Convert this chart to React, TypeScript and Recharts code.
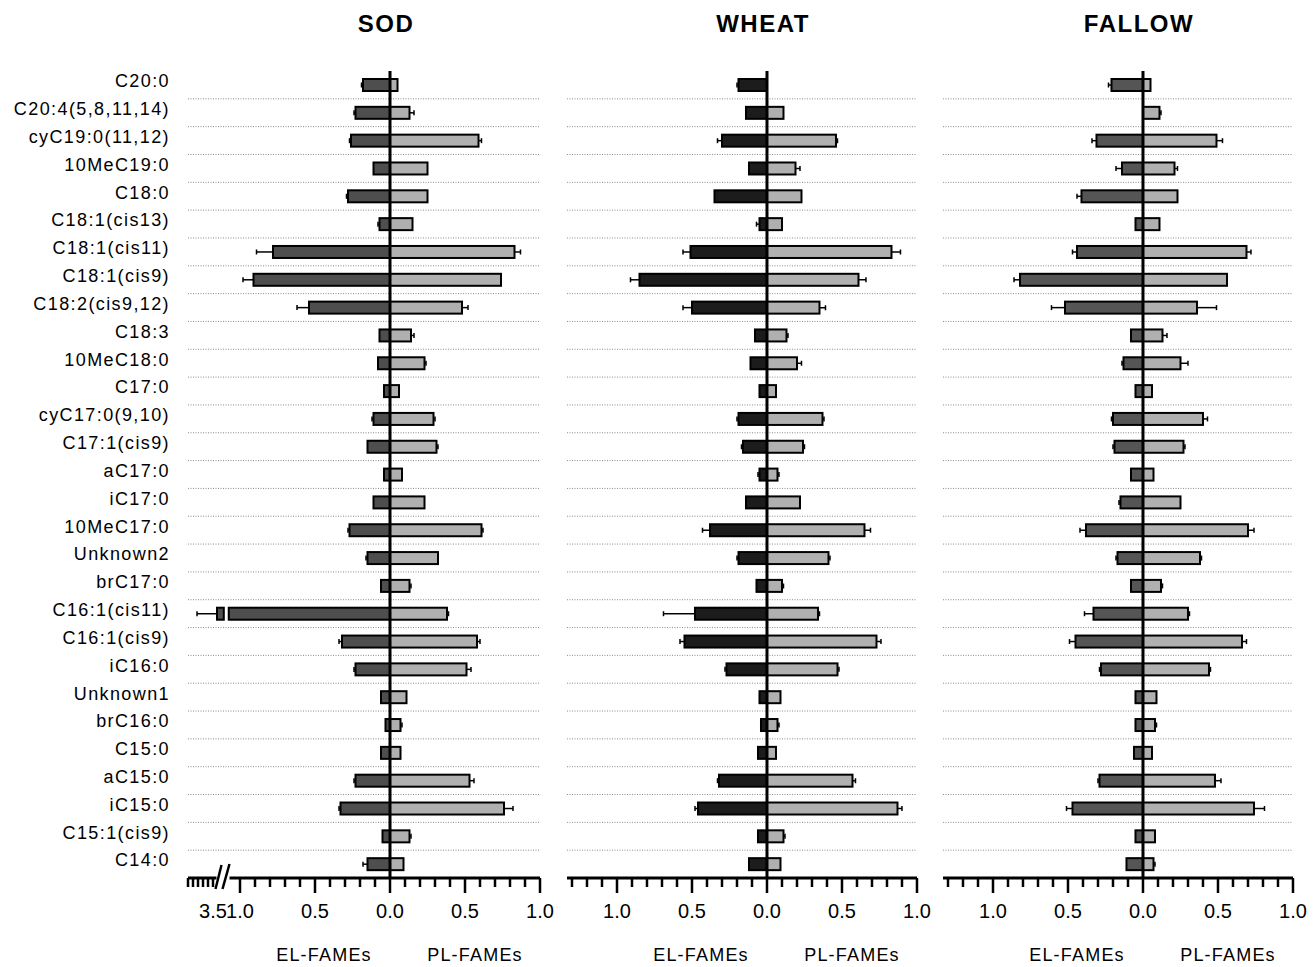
import React from "react";
import { BarChart, Bar, XAxis, YAxis, CartesianGrid, ReferenceLine } from "recharts";

const CATEGORIES = [
  "C20:0", "C20:4(5,8,11,14)", "cyC19:0(11,12)", "10MeC19:0", "C18:0", "C18:1(cis13)",
  "C18:1(cis11)", "C18:1(cis9)", "C18:2(cis9,12)", "C18:3", "10MeC18:0", "C17:0",
  "cyC17:0(9,10)", "C17:1(cis9)", "aC17:0", "iC17:0", "10MeC17:0", "Unknown2", "brC17:0",
  "C16:1(cis11)", "C16:1(cis9)", "iC16:0", "Unknown1", "brC16:0", "C15:0", "aC15:0",
  "iC15:0", "C15:1(cis9)", "C14:0",
];

// SOD
const SOD_EL = [0.18, 0.23, 0.26, 0.11, 0.28, 0.07, 0.78, 0.91, 0.54, 0.07, 0.08, 0.04, 0.11, 0.15, 0.04, 0.11, 0.27, 0.15, 0.06, 3.42, 0.32, 0.23, 0.06, 0.03, 0.06, 0.23, 0.33, 0.05, 0.15];
const SOD_EL_ERR = [0.01, 0.01, 0.01, 0, 0.01, 0.01, 0.11, 0.07, 0.08, 0, 0, 0, 0.01, 0, 0, 0, 0.01, 0.01, 0, 0.4, 0.02, 0.01, 0, 0, 0, 0.01, 0.01, 0, 0.03];
const SOD_PL = [0.05, 0.13, 0.59, 0.25, 0.25, 0.15, 0.83, 0.74, 0.48, 0.14, 0.23, 0.06, 0.29, 0.31, 0.08, 0.23, 0.61, 0.32, 0.13, 0.38, 0.58, 0.51, 0.11, 0.07, 0.07, 0.53, 0.76, 0.13, 0.09];
const SOD_PL_ERR = [0, 0.03, 0.02, 0, 0, 0, 0.04, 0, 0.04, 0.02, 0.01, 0, 0.01, 0.01, 0, 0, 0.01, 0, 0.01, 0.01, 0.02, 0.03, 0, 0.01, 0, 0.03, 0.06, 0.01, 0];

// WHEAT
const WHEAT_EL = [0.19, 0.14, 0.3, 0.12, 0.35, 0.05, 0.51, 0.85, 0.5, 0.08, 0.11, 0.05, 0.19, 0.16, 0.05, 0.14, 0.38, 0.19, 0.07, 0.48, 0.55, 0.27, 0.05, 0.04, 0.06, 0.32, 0.46, 0.06, 0.12];
const WHEAT_EL_ERR = [0.01, 0, 0.03, 0, 0, 0.02, 0.05, 0.06, 0.06, 0, 0, 0, 0.01, 0.01, 0.01, 0, 0.05, 0.01, 0, 0.21, 0.03, 0.01, 0, 0, 0, 0.01, 0.02, 0, 0];
const WHEAT_PL = [0, 0.11, 0.46, 0.19, 0.23, 0.1, 0.83, 0.61, 0.35, 0.13, 0.2, 0.06, 0.37, 0.24, 0.07, 0.22, 0.65, 0.41, 0.1, 0.34, 0.73, 0.47, 0.09, 0.07, 0.06, 0.57, 0.87, 0.11, 0.09];
const WHEAT_PL_ERR = [0, 0, 0.01, 0.03, 0, 0, 0.06, 0.05, 0.04, 0.01, 0.03, 0, 0.01, 0.01, 0.01, 0, 0.04, 0.01, 0.01, 0.01, 0.03, 0.01, 0, 0.01, 0, 0.02, 0.03, 0.01, 0];

// FALLOW
const FALLOW_EL = [0.21, 0, 0.31, 0.14, 0.41, 0.05, 0.44, 0.82, 0.52, 0.08, 0.13, 0.05, 0.2, 0.19, 0.08, 0.15, 0.38, 0.17, 0.08, 0.33, 0.45, 0.28, 0.05, 0.05, 0.06, 0.29, 0.47, 0.05, 0.11];
const FALLOW_EL_ERR = [0.02, 0, 0.03, 0.04, 0.03, 0, 0.03, 0.04, 0.09, 0, 0.01, 0, 0.01, 0.01, 0, 0.01, 0.04, 0.01, 0, 0.06, 0.04, 0.01, 0, 0, 0, 0.01, 0.04, 0, 0];
const FALLOW_PL = [0.05, 0.11, 0.49, 0.21, 0.23, 0.11, 0.69, 0.56, 0.36, 0.13, 0.25, 0.06, 0.4, 0.27, 0.07, 0.25, 0.7, 0.38, 0.12, 0.3, 0.66, 0.44, 0.09, 0.08, 0.06, 0.48, 0.74, 0.08, 0.07];
const FALLOW_PL_ERR = [0, 0.01, 0.04, 0.02, 0, 0, 0.03, 0, 0.13, 0.03, 0.05, 0, 0.03, 0.01, 0, 0, 0.04, 0.01, 0.01, 0.01, 0.03, 0.01, 0, 0.01, 0, 0.04, 0.07, 0, 0.01];

// x axis ticks
const MAJOR_TICKS = [-1, -0.5, 0, 0.5, 1];
const MINOR_TICKS = [-1.3, -1.2, -1.1, -1, -0.9, -0.8, -0.7, -0.6, -0.5, -0.4, -0.3, -0.2, -0.1, 0, 0.1, 0.2, 0.3, 0.4, 0.5, 0.6, 0.7, 0.8, 0.9, 1];
const BREAK_TICK_VALUES = [3.5, 3.6, 3.7, 3.8, 3.9, 4.0];
const BREAK_LABEL = 3.5;

const FONT = "'Liberation Sans', Arial, Helvetica, sans-serif";
const CHART_H = 967;
const PLOT_TOP = 71;
const PLOT_BOTTOM = 878;
const PX = 150; // pixels per unit on every panel
const X_AXIS_H = 60;

// broken axis (SOD only): values past 1.1 are squeezed to the left end
const BREAK_AT = 1.1;
const brk = (v: number) => (v <= BREAK_AT ? v : 1.18 + (v - 3.5) / 3);
const BREAK_MARK = -1.11;
const GAP_LO = 1.075;
const GAP_HI = 1.108;

const near = (a: number, b: number) => Math.abs(a - b) < 1e-6;

function buildRows(el: number[], elErr: number[], pl: number[], plErr: number[], broken: boolean) {
  const t = broken ? brk : (v: number) => v;
  return CATEGORIES.map((name, i) => ({
    name,
    el: -t(el[i]),
    pl: t(pl[i]),
    elErr: t(el[i] + elErr[i]) - t(el[i]),
    plErr: t(pl[i] + plErr[i]) - t(pl[i]),
  }));
}

function makeShape(fill: string, side: "el" | "pl", broken: boolean) {
  return (props: any) => {
    const { x, y, width, height, payload } = props;
    const val = side === "el" ? payload.el : payload.pl;
    if (!val || !width) return <g />;
    const left = Math.min(x, x + width);
    const right = Math.max(x, x + width);
    const ppu = (right - left) / Math.abs(val);
    const err = side === "el" ? payload.elErr : payload.plErr;
    const cy = y + height / 2;
    const zero = side === "el" ? right : left;
    const outer = side === "el" ? left : right;
    const errEnd = side === "el" ? outer - err * ppu : outer + err * ppu;

    const rects: [number, number][] = [];
    if (broken && side === "el" && Math.abs(val) > GAP_HI) {
      rects.push([left, zero - GAP_HI * ppu]);
      rects.push([zero - GAP_LO * ppu, right]);
    } else {
      rects.push([left, right]);
    }
    return (
      <g>
        {err > 0 && (
          <g stroke="#000" strokeWidth={1.5}>
            <line x1={outer} x2={errEnd} y1={cy} y2={cy} />
            <line x1={errEnd} x2={errEnd} y1={cy - 2.5} y2={cy + 2.5} />
          </g>
        )}
        {rects.map(([a, b], k) => (
          <rect key={k} x={a} y={y} width={b - a} height={height} fill={fill} stroke="#000" strokeWidth={2} />
        ))}
      </g>
    );
  };
}

function makeXTick(broken: boolean) {
  return (props: any) => {
    const { x, y, payload } = props;
    const v = payload.value;
    if (broken && near(v, BREAK_MARK)) {
      return (
        <g>
          <rect x={x - 7} y={y - 3} width={13} height={6} fill="#fff" />
          <line x1={x - 8} y1={y + 11} x2={x - 2} y2={y - 13} stroke="#000" strokeWidth={2.5} />
          <line x1={x - 1} y1={y + 11} x2={x + 6} y2={y - 14} stroke="#000" strokeWidth={2.5} />
        </g>
      );
    }
    const major = MAJOR_TICKS.some((m) => near(m, v));
    let label: string | null = major ? Math.abs(v).toFixed(1) : null;
    if (broken && near(v, -brk(BREAK_LABEL))) label = BREAK_LABEL.toFixed(1);
    return (
      <g>
        <line x1={x} x2={x} y1={y} y2={y + (major ? 15 : 9)} stroke="#000" strokeWidth={2.5} />
        {label && (
          <text x={x} y={y + 40} textAnchor="middle" fontSize={20} fontFamily={FONT} fill="#000">
            {label}
          </text>
        )}
      </g>
    );
  };
}

const YTick = (props: any) => {
  const { x, y, payload } = props;
  return (
    <text x={x - 18} y={y - 4} dy="0.355em" textAnchor="end" fontSize={18} letterSpacing={1.4} fontFamily={FONT} fill="#000">
      {payload.value}
    </text>
  );
};

const PANELS = [
  { title: "SOD", left: 0, yAxisWidth: 188, xMin: -brk(4.0), el: SOD_EL, elErr: SOD_EL_ERR, pl: SOD_PL, plErr: SOD_PL_ERR, elFill: "#4e4e4e", broken: true },
  { title: "WHEAT", left: 567, yAxisWidth: 0, xMin: -1.3333, el: WHEAT_EL, elErr: WHEAT_EL_ERR, pl: WHEAT_PL, plErr: WHEAT_PL_ERR, elFill: "#1c1c1c", broken: false },
  { title: "FALLOW", left: 943, yAxisWidth: 0, xMin: -1.3333, el: FALLOW_EL, elErr: FALLOW_EL_ERR, pl: FALLOW_PL, plErr: FALLOW_PL_ERR, elFill: "#555555", broken: false },
];
const PL_FILL = "#b0b0b0";

function Panel({ p }: { p: (typeof PANELS)[number] }) {
  const data = buildRows(p.el, p.elErr, p.pl, p.plErr, p.broken);
  const plotW = (1 - p.xMin) * PX;
  const width = p.yAxisWidth + plotW + 30;
  const ticks = p.broken
    ? [...BREAK_TICK_VALUES.map((v) => -brk(v)), BREAK_MARK, ...MINOR_TICKS.filter((t) => t >= -1)]
    : MINOR_TICKS;

  return (
    <div style={{ position: "absolute", left: p.left, top: 0 }}>
      <BarChart
        width={width}
        height={CHART_H}
        data={data}
        layout="vertical"
        stackOffset="sign"
        barSize={12}
        margin={{ top: PLOT_TOP, right: 30, bottom: CHART_H - PLOT_BOTTOM - X_AXIS_H, left: 0 }}
      >
        <CartesianGrid
          vertical={false}
          stroke="#8a8a8a"
          strokeDasharray="1 1.5"
          horizontalCoordinatesGenerator={({ offset }: any) => {
            const h = offset.height / CATEGORIES.length;
            return CATEGORIES.slice(1).map((_, i) => offset.top + h * (i + 1));
          }}
        />
        <XAxis
          type="number"
          domain={[p.xMin, 1]}
          allowDataOverflow
          ticks={ticks}
          interval={0}
          tickSize={0}
          tickMargin={0}
          tickLine={false}
          height={X_AXIS_H}
          axisLine={{ stroke: "#000", strokeWidth: 3 }}
          tick={makeXTick(p.broken)}
        />
        <YAxis
          type="category"
          dataKey="name"
          hide={p.yAxisWidth === 0}
          width={p.yAxisWidth}
          axisLine={false}
          tickLine={false}
          tickSize={0}
          tickMargin={0}
          interval={0}
          tick={YTick}
        />
        <Bar dataKey="el" stackId="s" fill={p.elFill} isAnimationActive={false} shape={makeShape(p.elFill, "el", p.broken)} />
        <Bar dataKey="pl" stackId="s" fill={PL_FILL} isAnimationActive={false} shape={makeShape(PL_FILL, "pl", false)} />
        <ReferenceLine x={0} stroke="#000" strokeWidth={3} />
      </BarChart>
    </div>
  );
}

export default function App() {
  const zeros = PANELS.map((p) => p.left + p.yAxisWidth - p.xMin * PX);
  return (
    <div style={{ position: "absolute", left: 0, top: 0, width: 1314, height: 967, background: "#fff" }}>
      {PANELS.map((p) => (
        <Panel key={p.title} p={p} />
      ))}
      <svg width={1314} height={967} style={{ position: "absolute", left: 0, top: 0, pointerEvents: "none" }}>
        {PANELS.map((p, i) => (
          <g key={p.title} fontFamily={FONT} fill="#000">
            <text x={zeros[i] - 4} y={32} textAnchor="middle" fontSize={24} fontWeight="bold" letterSpacing={1.5}>
              {p.title}
            </text>
            <text x={zeros[i] - 66} y={961} textAnchor="middle" fontSize={18} letterSpacing={1.2}>
              EL-FAMEs
            </text>
            <text x={zeros[i] + 85} y={961} textAnchor="middle" fontSize={18} letterSpacing={1.2}>
              PL-FAMEs
            </text>
          </g>
        ))}
      </svg>
    </div>
  );
}
